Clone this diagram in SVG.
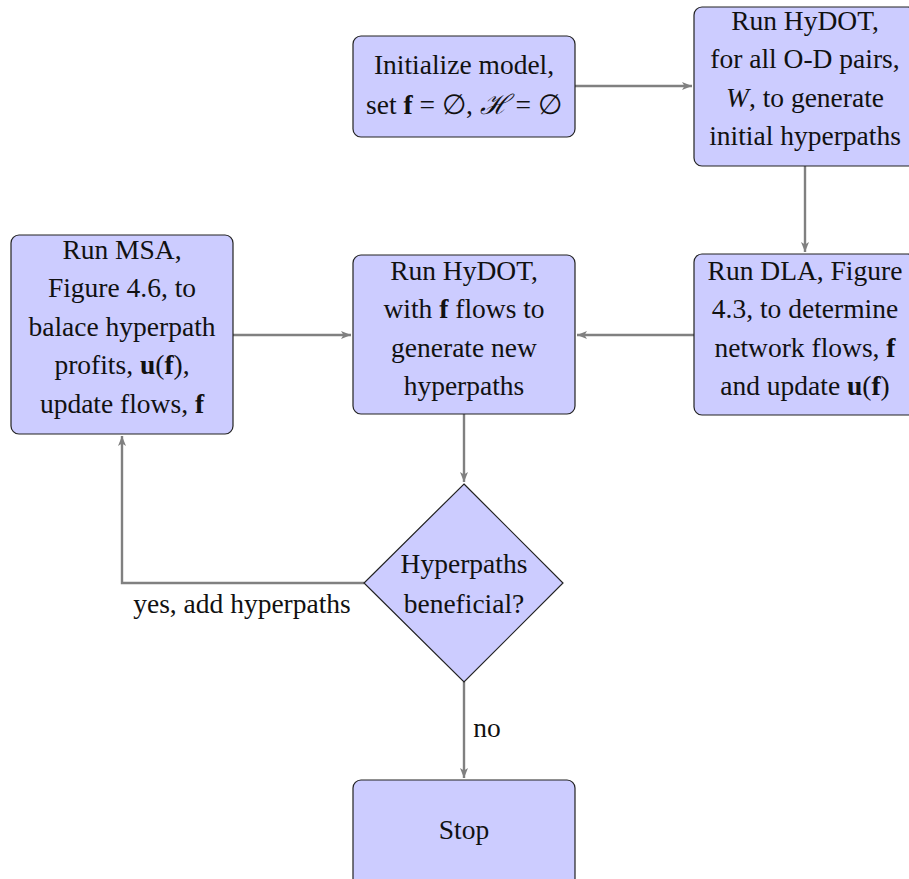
<svg xmlns="http://www.w3.org/2000/svg" width="909" height="879" viewBox="0 0 909 879">
<style>
.box{fill:#ccccff;stroke:#222;stroke-width:1.2}
.t{font-family:"Liberation Serif","DejaVu Serif",serif;font-size:27.5px;fill:#111;text-anchor:middle}
.b{font-weight:bold}
.i{font-style:italic}
.c{fill:none;stroke:#808080;stroke-width:2.4}
</style>
<defs>
<marker id="ah" markerUnits="userSpaceOnUse" markerWidth="12" markerHeight="10" refX="10" refY="4" orient="auto">
<path d="M0,0 L10,4 L0,8 L2.5,4 Z" fill="#808080"/>
</marker>
</defs>
<g id="connectors">
<path class="c" d="M575,86 H692" marker-end="url(#ah)"/>
<path class="c" d="M805,166 V252" marker-end="url(#ah)"/>
<path class="c" d="M694,335 H577" marker-end="url(#ah)"/>
<path class="c" d="M233,335 H351" marker-end="url(#ah)"/>
<path class="c" d="M464,414 V482" marker-end="url(#ah)"/>
<path class="c" d="M364,583 H122 V436" marker-end="url(#ah)"/>
<path class="c" d="M464,682 V778" marker-end="url(#ah)"/>
<text class="t" x="242" y="613">yes, add hyperpaths</text>
<text class="t" x="487" y="737">no</text>
</g>
<g id="init">
<rect class="box" x="353" y="36" width="222" height="101" rx="8"/>
<text class="t" x="464" y="74">Initialize model,</text>
<text class="t" x="464" y="114">set <tspan class="b">f</tspan> = ∅, <tspan class="i">ℋ</tspan> = ∅</text>
</g>
<g id="hydot1">
<rect class="box" x="694" y="7" width="222" height="159" rx="8"/>
<text class="t" x="805" y="30">Run HyDOT,</text>
<text class="t" x="805" y="68">for all O-D pairs,</text>
<text class="t" x="805" y="107"><tspan class="i">W</tspan>, to generate</text>
<text class="t" x="805" y="145">initial hyperpaths</text>
</g>
<g id="dla">
<rect class="box" x="694" y="254" width="222" height="161" rx="8"/>
<text class="t" x="805" y="280">Run DLA, Figure</text>
<text class="t" x="805" y="318">4.3, to determine</text>
<text class="t" x="805" y="357">network flows, <tspan class="b">f</tspan></text>
<text class="t" x="805" y="395">and update <tspan class="b">u</tspan>(<tspan class="b">f</tspan>)</text>
</g>
<g id="hydot2">
<rect class="box" x="353" y="255" width="222" height="159" rx="8"/>
<text class="t" x="464" y="280">Run HyDOT,</text>
<text class="t" x="464" y="318">with <tspan class="b">f</tspan> flows to</text>
<text class="t" x="464" y="357">generate new</text>
<text class="t" x="464" y="395">hyperpaths</text>
</g>
<g id="msa">
<rect class="box" x="11" y="235" width="222" height="199" rx="8"/>
<text class="t" x="122" y="259">Run MSA,</text>
<text class="t" x="122" y="297">Figure 4.6, to</text>
<text class="t" x="122" y="336">balace hyperpath</text>
<text class="t" x="122" y="374">profits, <tspan class="b">u</tspan>(<tspan class="b">f</tspan>),</text>
<text class="t" x="122" y="413">update flows, <tspan class="b">f</tspan></text>
</g>
<g id="decision">
<polygon class="box" points="464,484 563,583 464,682 364,583"/>
<text class="t" x="464" y="573">Hyperpaths</text>
<text class="t" x="464" y="613">beneficial?</text>
</g>
<g id="stop">
<rect class="box" x="353" y="780" width="222" height="110" rx="8"/>
<text class="t" x="464" y="839">Stop</text>
</g>
</svg>
